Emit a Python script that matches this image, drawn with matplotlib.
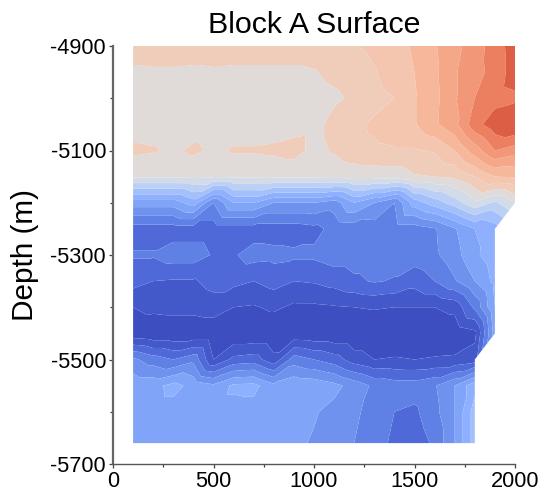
import numpy as np
import matplotlib
matplotlib.use("Agg")
import matplotlib.pyplot as plt
import matplotlib.tri as mtri

n = np.nan
distance = list(range(100, 2100, 100))
depth = [-4900, -4950, -5000, -5050, -5100, -5150, -5200, -5250, -5300, -5350,
         -5400, -5450, -5500, -5550, -5600, -5660]
r0  = [11.4]*11 + [11.9, 12.3, 12.7, 13.1, 13.9, 14.7, 15.5, 16.5, 17.5]
r1  = [10.85, 10.9, 10.9, 10.85, 10.9, 10.85, 10.85, 10.85, 10.85, 10.95, 11.2, 11.4, 11.9, 12.6, 13.0, 13.8, 14.9, 15.6, 16.4, 17.5]
r2  = [10.5, 10.5, 10.5, 10.5, 10.5, 10.5, 10.5, 10.5, 10.5, 10.7, 10.85, 11.15, 11.6, 12.0, 12.9, 13.7, 14.9, 16.0, 16.6, 16.8]
r3  = [10.5, 10.5, 10.5, 10.5, 10.5, 10.5, 10.5, 10.5, 10.6, 10.7, 11.3, 11.7, 12.2, 12.5, 12.9, 13.8, 14.7, 16.6, 17.6, 18.0]
r4  = [11.2, 11.1, 10.8, 11.2, 10.8, 11.1, 11.1, 11.2, 11.4, 10.7, 11.1, 11.6, 11.8, 11.9, 11.9, 12.1, 13.0, 14.5, 16.0, 15.5]
r5  = [10.15, 10.15, 10.15, 10.2, 10.1, 10.15, 10.15, 10.2, 10.2, 10.2, 10.3, 10.4, 10.4, 10.4, 10.9, 11.0, 11.2, 12.0, 13.0, 13.1]
r6  = [5.5, 5.5, 5.5, 6.5, 4.0, 6.0, 6.0, 5.0, 5.0, 5.0, 4.5, 6.0, 5.0, 4.0, 6.5, 7.5, 8.5, 9.8, 8.8, 10.0]
r7  = [2.5]*8 + [2.5, 2.7, 3.3, 3.4, 3.5, 3.5, 3.5, 3.9, 4.9, 6.0, 6.5, n]
r8  = [3.1, 3.1, 3.5, 3.5, 2.9, 2.9, 3.4, 3.3, 3.2, 3.2, 3.5, 3.5, 3.5, 3.5, 3.5, 3.8, 4.6, 5.8, 6.6, n]
r9  = [2.4, 2.0, 1.9, 1.9, 2.3, 2.3, 2.0, 2.4, 2.0, 2.1, 2.4, 2.8, 3.1, 2.9, 2.4, 3.0, 3.9, 5.0, 6.3, n]
r10 = [1.0, 1.3, 1.4, 1.4, 1.6, 1.0, 0.9, 1.2, 0.8, 0.8, 0.9, 1.0, 1.1, 1.0, 1.0, 1.0, 1.3, 3.2, 6.0, n]
r11 = [0.3, 0.1, 0.1, 0.1, 0.1, 0.1, 0.1, 0.1, 0.2, 0.1, 0.1, 0.1, 0.1, 0.1, 0.1, 0.2, 0.3, 0.7, 5.5, n]
r12 = [4.2, 3.5, 3.0, 3.7, 1.0, 2.3, 2.5, 1.3, 3.5, 3.0, 2.5, 1.5, 1.0, 1.1, 1.0, 1.1, 1.15, 1.5, n, n]
r13 = [5.7, 5.7, 6.3, 5.7, 5.2, 6.2, 6.3, 5.3, 5.8, 5.7, 5.3, 4.6, 3.8, 3.5, 3.5, 3.9, 5.0, 6.7, n, n]
r14 = [5.6]*9 + [5.1, 4.7, 4.2, 3.6, 3.0, 2.8, 3.7, 5.0, 7.5, n, n]
r15 = [5.5]*8 + [5.2, 4.9, 4.4, 4.0, 3.4, 2.8, 2.4, 3.2, 5.0, 7.5, n, n]
rows = [r0, r1, r2, r3, r4, r5, r6, r7, r8, r9, r10, r11, r12, r13, r14, r15]
levels = list(range(0, 20))
band_colors = ['#3d4fc0', '#4459c9', '#4f69d9', '#5f80e5', '#6f92ee', '#80a5f8',
               '#8fb0ff', '#a3c0fb', '#bccff5', '#d3dbe8', '#e0dbd8', '#f0cdbb',
               '#f4c6b0', '#f7b79b', '#f5a888', '#f29878', '#ec7f60', '#dc5f45',
               '#d85a40']

plt.rcParams['font.family'] = ['Liberation Sans', 'DejaVu Sans']
plt.rcParams['axes.unicode_minus'] = False
W, H = 544, 497
fig = plt.figure(figsize=(W/100, H/100), dpi=100)
ax = fig.add_axes([113/W, 1-464/H, (515-113)/W, (464-46)/H])

Z = np.array(rows, dtype=float)
X, Y = np.meshgrid(distance, depth)
ny, nx = Z.shape
idx = np.arange(nx*ny).reshape(ny, nx)
valid = np.isfinite(Z).ravel()
tris = []
for j in range(ny-1):
    for i in range(nx-1):
        a, b, c, d = idx[j, i], idx[j, i+1], idx[j+1, i], idx[j+1, i+1]
        for t in ([a, b, c], [b, c, d]):
            if valid[t].all():
                tris.append(t)
tri = mtri.Triangulation(X.ravel(), Y.ravel(), tris)
ax.tricontourf(tri, np.nan_to_num(Z.ravel(), nan=0.0), levels=levels, colors=band_colors,
               antialiased=True)

ax.set_xlim(0, 2000)
ax.set_ylim(-5700, -4900)
ax.set_xticks([0, 500, 1000, 1500, 2000])
ax.set_yticks([-4900, -5100, -5300, -5500, -5700])
ax.set_xticks([250, 750, 1250, 1750], minor=True)
ax.set_yticks([-5000, -5200, -5400, -5600], minor=True)
for s in ('top', 'right'):
    ax.spines[s].set_visible(False)
ax.spines['left'].set_linewidth(1.6)
ax.spines['left'].set_color('#666666')
ax.spines['bottom'].set_linewidth(1.0)
ax.spines['bottom'].set_color('#555555')
ax.tick_params(axis='both', which='major', length=3, width=0.9, color='#444444', labelsize=15.7, pad=2)
ax.tick_params(axis='both', which='minor', length=2, width=0.9, color='#444444')
ax.set_ylabel('Depth (m)', fontsize=21.4, labelpad=8)
ax.set_title('Block A Surface', fontsize=21.9, pad=9.5)
fig.savefig('out.png', dpi=100)
